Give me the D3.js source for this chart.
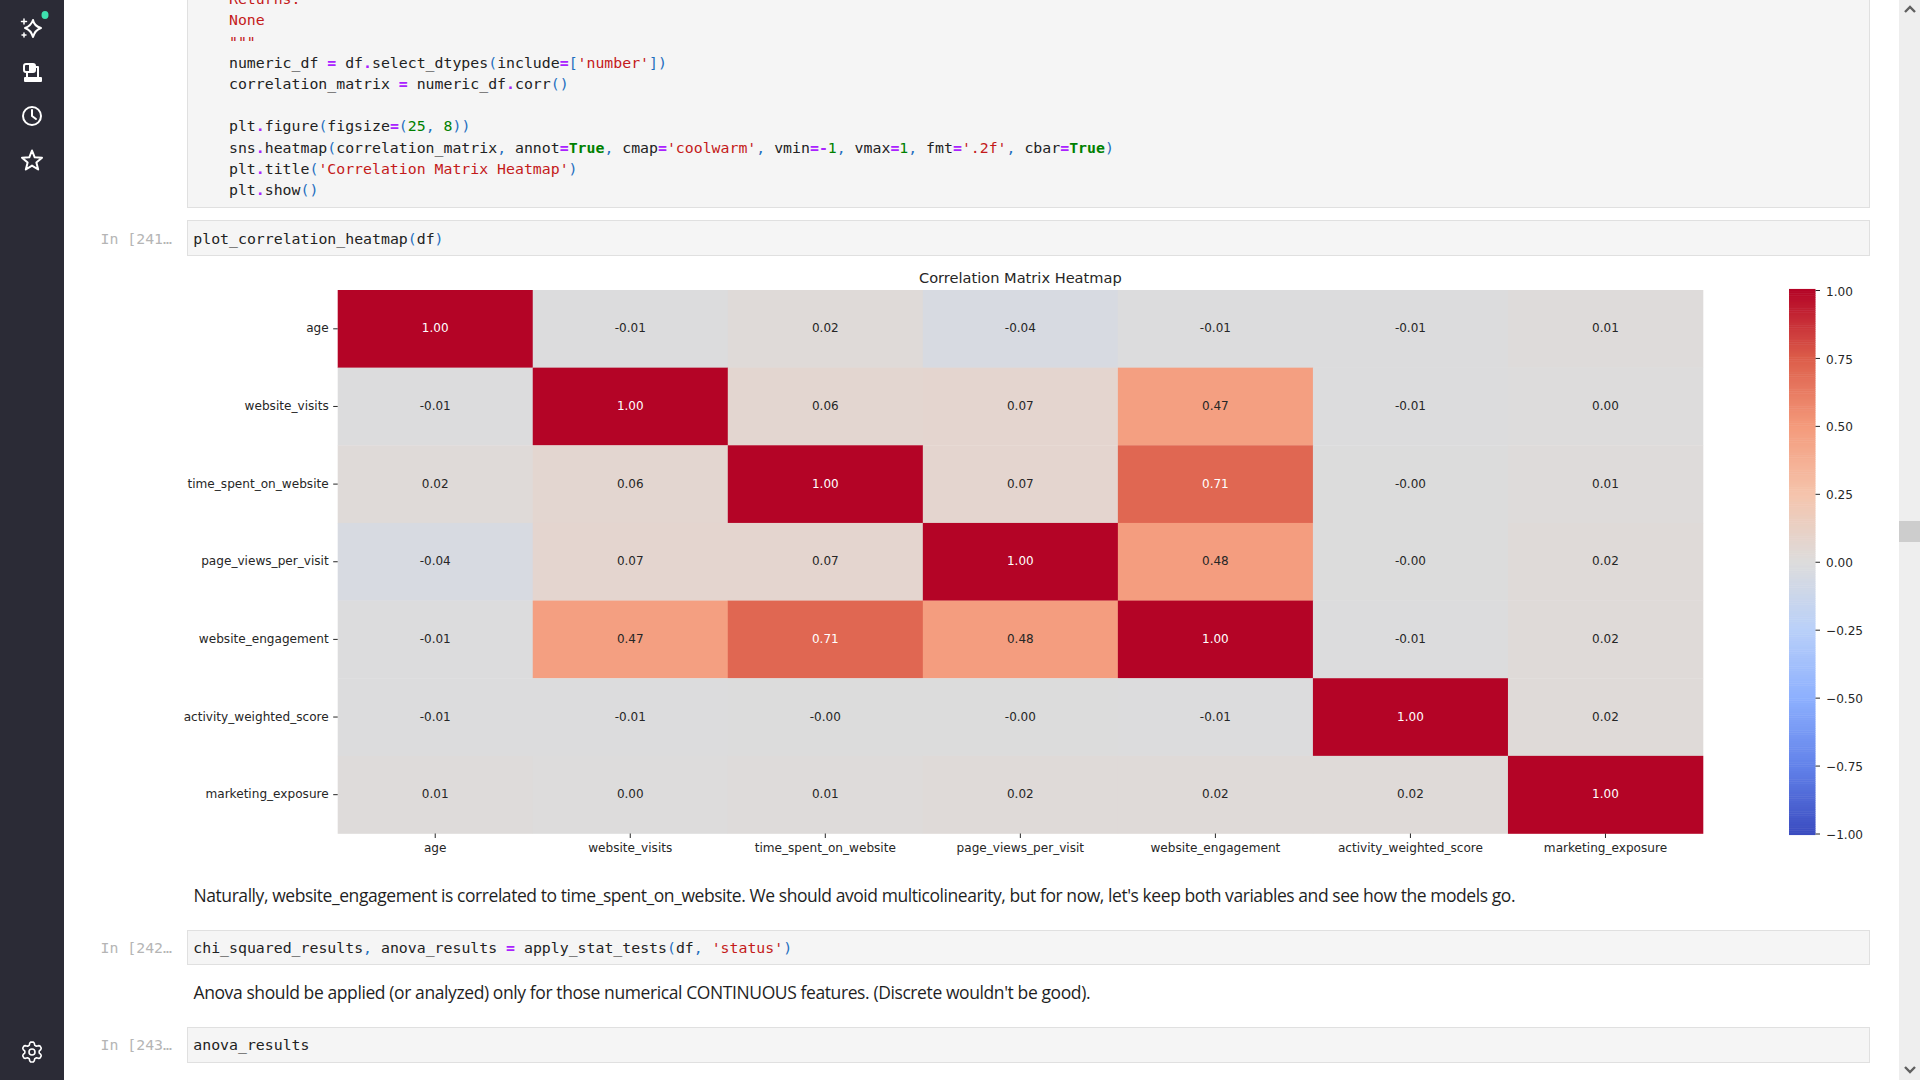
<!DOCTYPE html>
<html>
<head>
<meta charset="utf-8">
<script src="https://cdnjs.cloudflare.com/ajax/libs/d3/7.8.5/d3.min.js"></script>
<style>
html, body { margin: 0; padding: 0; background: #fff; overflow: hidden; }
svg { display: block; }
text { white-space: pre; }
.code { font-family: "DejaVu Sans Mono", monospace; font-size: 14.85px; fill: #222; }
.prompt { font-family: "DejaVu Sans Mono", monospace; font-size: 14.85px; fill: #b5b5b5; }
.para { font-family: "Open Sans", sans-serif; font-size: 17.5px; fill: #1f1f1f; }
.chart text { font-family: "DejaVu Sans", sans-serif; }
.axis text { font-size: 12.1px; fill: #262626; }
.axis line { stroke: #262626; stroke-width: 1; }
.axis path { display: none; }
.annot { font-size: 12px; }
.title { font-size: 14.6px; fill: #262626; }
.icon { fill: none; stroke: #fff; stroke-width: 2; stroke-linejoin: round; stroke-linecap: round; }
</style>
</head>
<body>
<script>
// heatmap data
var categories = ["age", "website_visits", "time_spent_on_website", "page_views_per_visit",
    "website_engagement", "activity_weighted_score", "marketing_exposure"];

var rowAge        = [1.00, -0.01, 0.02, -0.04, -0.01, -0.01, 0.01];
var rowVisits     = [-0.01, 1.00, 0.06, 0.07, 0.47, -0.01, 0.00];
var rowTime       = [0.02, 0.06, 1.00, 0.07, 0.71, -0.004, 0.01];
var rowPageViews  = [-0.04, 0.07, 0.07, 1.00, 0.48, -0.004, 0.02];
var rowEngagement = [-0.01, 0.47, 0.71, 0.48, 1.00, -0.01, 0.02];
var rowActivity   = [-0.01, -0.01, -0.004, -0.004, -0.01, 1.00, 0.02];
var rowMarketing  = [0.01, 0.00, 0.01, 0.02, 0.02, 0.02, 1.00];
var matrix = [rowAge, rowVisits, rowTime, rowPageViews, rowEngagement, rowActivity, rowMarketing];

var colorbarTicks = [-1, -0.75, -0.5, -0.25, 0, 0.25, 0.5, 0.75, 1];

// matplotlib coolwarm, sampled every 0.25 of the -1..1 range
var coolwarmStops = ["#3b4cc0", "#6282ea", "#8db0fe", "#b9d0f9", "#dddcdc", "#f5c4ac", "#f49a7b", "#dc5d4a", "#b40426"];

var topCode = [
    ["Returns:", true],
    ["None", true],
    ['"""', true],
    ["numeric_df = df.select_dtypes(include=['number'])"],
    ["correlation_matrix = numeric_df.corr()"],
    [""],
    ["plt.figure(figsize=(25, 8))"],
    ["sns.heatmap(correlation_matrix, annot=True, cmap='coolwarm', vmin=-1, vmax=1, fmt='.2f', cbar=True)"],
    ["plt.title('Correlation Matrix Heatmap')"],
    ["plt.show()"]
];

var width = 1920, height = 1080;

var svg = d3.select("body").append("svg")
    .attr("width", width)
    .attr("height", height);

// ---- notebook chrome ----

function cell(x, y, w, h) {
    svg.append("rect")
        .attr("x", x + 0.5).attr("y", y + 0.5)
        .attr("width", w).attr("height", h)
        .attr("fill", "#f5f5f5")
        .attr("stroke", "#e0e0e0");
}

// colour the python source the way the notebook does
function codeLine(x, y, src, isDoc) {
    var t = svg.append("text")
        .attr("class", "code")
        .attr("x", x).attr("y", y)
        .attr("dy", "0.35em");
    if (isDoc) {
        t.style("fill", "#c41a1a").text(src);
        return;
    }
    var parts = src.match(/'[^']*'|True|\b\d+\b|[=.\-]|[()\[\],]|[^'=.\-()\[\],\d]+|\d/g) || [];
    parts.forEach(function(p) {
        var s = t.append("tspan").text(p);
        if (p[0] === "'") s.style("fill", "#c41a1a");
        else if (p === "True") s.style("fill", "#008000").style("font-weight", "bold");
        else if (/^\d+$/.test(p)) s.style("fill", "#008000");
        else if (/^[=.\-]$/.test(p)) s.style("fill", "#aa22ff").style("font-weight", "bold");
        else if (/^[()\[\],]$/.test(p)) s.style("fill", "#1f6fc0");
    });
}

function prompt(y, label) {
    svg.append("text")
        .attr("class", "prompt")
        .attr("x", 172).attr("y", y)
        .attr("dy", "0.35em")
        .attr("text-anchor", "end")
        .text(label);
}

function para(y, str, len) {
    svg.append("text")
        .attr("class", "para")
        .attr("x", 193.5).attr("y", y)
        .attr("dy", "0.35em")
        .attr("textLength", len)
        .text(str);
}

cell(187, -5, 1682, 212);
topCode.forEach(function(d, i) {
    codeLine(229, -1 + i * 21.2, d[0], d[1]);
});

cell(187, 220, 1682, 35);
prompt(239, "In [241…");
codeLine(193.3, 239, "plot_correlation_heatmap(df)");

para(896, "Naturally, website_engagement is correlated to time_spent_on_website. We should avoid multicolinearity, but for now, let's keep both variables and see how the models go.", 1322);

cell(187, 930, 1682, 34);
prompt(948, "In [242…");
codeLine(193.3, 948, "chi_squared_results, anova_results = apply_stat_tests(df, 'status')");

para(993, "Anova should be applied (or analyzed) only for those numerical CONTINUOUS features. (Discrete wouldn't be good).", 897);

cell(187, 1027, 1682, 35);
prompt(1044.5, "In [243…");
codeLine(193.3, 1044.5, "anova_results");

// sidebar
svg.append("rect").attr("width", 64).attr("height", height).attr("fill", "#2b2b36");
svg.append("ellipse").attr("cx", 45).attr("cy", 15).attr("rx", 3.5).attr("ry", 4).attr("fill", "#3ee0ae");

var icons = svg.append("g").attr("class", "icon");
// sparkle
icons.append("path").attr("d", "M33 20 Q34 26 41 28 Q35 30 33 37 Q31 30 25 28 Q31 26 33 20 Z");
icons.append("path").attr("stroke-width", 1.5).attr("d", "M24 19v5M21.5 21.5h5M24 33v4M22 35h4");
// saved notebooks
icons.append("rect").attr("x", 24).attr("y", 64).attr("width", 11).attr("height", 8).attr("rx", 2);
icons.append("rect").attr("x", 30).attr("y", 65).attr("width", 4).attr("height", 6).attr("fill", "#fff");
icons.append("path").attr("d", "M36 67h2v10M27 73v4");
icons.append("path").attr("fill", "#fff").attr("d", "M25 78h16v3h-16z");

// clock
icons.append("circle").attr("cx", 32).attr("cy", 116).attr("r", 9);
icons.append("path").attr("d", "M32 110v6l4 3");
// star
var starPts = d3.range(10).map(function(i) {
    var r = i % 2 ? 4.6 : 10.5, a = i * Math.PI / 5;
    return [32 + r * Math.sin(a), 161 - r * Math.cos(a)];
});
icons.append("path").attr("d", d3.line()(starPts) + "Z");
// settings gear
var gearPts = d3.range(48).map(function(i) {
    var k = i % 8, r = (k < 2 || k === 7) ? 10 : (k === 2 || k === 6) ? 9 : 7.2, a = i * Math.PI / 24;
    return [32 + r * Math.sin(a), 1052 - r * Math.cos(a)];
});
icons.append("path").attr("stroke-width", 1.6).attr("d", d3.line()(gearPts) + "Z");
icons.append("circle").attr("stroke-width", 1.6).attr("cx", 32).attr("cy", 1052).attr("r", 3);

// scrollbar
svg.append("rect").attr("x", 1899).attr("width", 21).attr("height", height).attr("fill", "#eeeeee");
svg.append("rect").attr("x", 1899).attr("y", 521).attr("width", 21).attr("height", 21).attr("fill", "#cdcdcd");
svg.append("path").attr("d", "M1905 12l5-5 5 5").attr("fill", "none").attr("stroke", "#606060").attr("stroke-width", 2.4);
svg.append("path").attr("d", "M1905 1067l5 5 5-5").attr("fill", "none").attr("stroke", "#606060").attr("stroke-width", 2.4);

// ---- heatmap ----

var margin = {top: 290, left: 337.7},
    plotW = 1365.3,
    plotH = 543.5;

var chart = svg.append("g")
    .attr("class", "chart")
    .attr("transform", "translate(" + margin.left + "," + margin.top + ")");

var x = d3.scaleBand().domain(categories).range([0, plotW]);
var y = d3.scaleBand().domain(categories).range([0, plotH]);

var color = d3.scaleLinear()
    .domain(coolwarmStops.map(function(d, i) { return -1 + i * 0.25; }))
    .range(coolwarmStops);

var cells = [];
matrix.forEach(function(row, r) {
    row.forEach(function(v, c) {
        cells.push({row: categories[r], col: categories[c], value: v});
    });
});

chart.selectAll("rect.cell")
    .data(cells)
    .enter().append("rect")
    .attr("class", "cell")
    .attr("x", function(d) { return x(d.col); })
    .attr("y", function(d) { return y(d.row); })
    .attr("width", x.bandwidth() + 0.3)
    .attr("height", y.bandwidth() + 0.3)
    .attr("fill", function(d) { return color(d.value); });

chart.selectAll("text.annot")
    .data(cells)
    .enter().append("text")
    .attr("class", "annot")
    .attr("x", function(d) { return x(d.col) + x.bandwidth() / 2; })
    .attr("y", function(d) { return y(d.row) + y.bandwidth() / 2 - 0.6; })
    .attr("dy", "0.35em")
    .attr("text-anchor", "middle")
    .attr("fill", function(d) { return d.value > 0.6 ? "#ffffff" : "#262626"; })
    .text(function(d) { return d.value.toFixed(2); });

chart.append("g")
    .attr("class", "axis")
    .call(d3.axisLeft(y).tickSize(4.5).tickPadding(4.5))
    .selectAll("text").attr("dy", "0.29em");

chart.append("g")
    .attr("class", "axis")
    .attr("transform", "translate(0," + plotH + ")")
    .call(d3.axisBottom(x).tickSize(4.5).tickPadding(5.5));

chart.append("text")
    .attr("class", "title")
    .attr("x", plotW / 2)
    .attr("y", -12)
    .attr("dy", "0.35em")
    .attr("text-anchor", "middle")
    .text("Correlation Matrix Heatmap");

// ---- colorbar ----

var cbarX = 1789 - margin.left,
    cbarW = 26.5;

var cbarScale = d3.scaleLinear().domain([-1, 1]).range([plotH, 0]);

var cbar = chart.append("g")
    .attr("transform", "translate(" + cbarX + ",0)");

var levels = d3.range(256).map(function(i) { return -1 + i * 2 / 255; });

cbar.selectAll("rect")
    .data(levels)
    .enter().append("rect")
    .attr("x", 0)
    .attr("y", function(d) { return cbarScale(d) - plotH / 510; })
    .attr("width", cbarW)
    .attr("height", plotH / 255 + 0.5)
    .attr("fill", function(d) { return color(d); });

cbar.append("g")
    .attr("class", "axis")
    .attr("transform", "translate(" + cbarW + ",0)")
    .call(d3.axisRight(cbarScale)
        .tickValues(colorbarTicks)
        .tickFormat(d3.format(".2f"))
        .tickSize(4.5)
        .tickPadding(6))
    .selectAll("text").attr("dy", "0.42em");
</script>
</body>
</html>
